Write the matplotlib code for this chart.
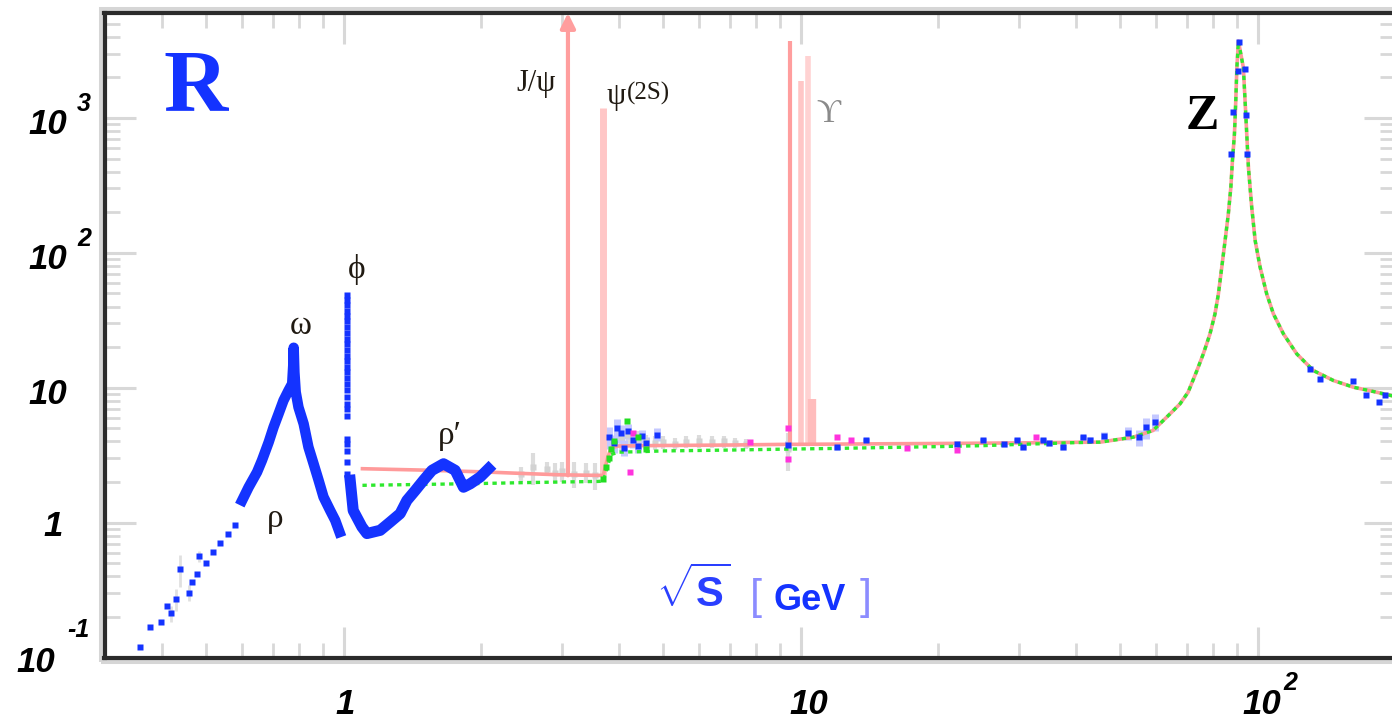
import matplotlib
matplotlib.use("Agg")
import matplotlib.pyplot as plt
from matplotlib.patches import Rectangle

plt.rcParams['mathtext.fontset'] = 'custom'
plt.rcParams['mathtext.bf'] = 'Liberation Sans:bold'
plt.rcParams['mathtext.rm'] = 'Liberation Sans'

# ---- values (sqrt(s) in GeV, R) ----
# sparse points below the rho
low_s = [0.359, 0.378, 0.399, 0.410, 0.419, 0.431, 0.439, 0.459, 0.467, 0.479,
         0.484, 0.501, 0.519, 0.536, 0.560, 0.580]
low_r = [0.120, 0.167, 0.182, 0.240, 0.212, 0.271, 0.451, 0.303, 0.363, 0.414,
         0.563, 0.502, 0.606, 0.706, 0.829, 0.955]
low_e = [0.0, 0.0, 0.0, 0.0, 0.03, 0.05, 0.12, 0.04, 0.0, 0.0,
         0.05, 0.0, 0.0, 0.0, 0.0, 0.0]

# rho / omega band
rho_s = [0.600, 0.620, 0.647, 0.663, 0.686, 0.703, 0.721, 0.739, 0.758, 0.772,
         0.776, 0.778, 0.781, 0.786, 0.797, 0.818, 0.838, 0.860, 0.882, 0.904,
         0.935, 0.959, 0.980]
rho_r = [1.46, 1.83, 2.37, 2.89, 3.95, 5.10, 6.41, 8.04, 9.54, 10.7,
         14.5, 19.8, 13.0, 9.3, 7.17, 5.40, 3.63, 2.73, 2.06, 1.55,
         1.23, 1.04, 0.85]

# phi spike
phi_s = [1.019] * 27
phi_r = [49, 45, 41, 37, 34, 31, 28, 25.5, 23, 21, 19, 17.3, 15.7, 14.3, 13,
         11.8, 10.7, 9.7, 8.6, 7.6, 6.9, 6.2, 4.2, 3.8, 3.4, 2.8, 2.3]

# above the phi up to ~2 GeV (rho' region)
rhop_s = [1.034, 1.050, 1.097, 1.125, 1.203, 1.265, 1.330, 1.376, 1.435, 1.496,
          1.561, 1.655, 1.755, 1.830, 1.893, 1.991, 2.076]
rhop_r = [2.06, 1.23, 0.93, 0.83, 0.877, 1.01, 1.166, 1.46, 1.73, 2.06,
          2.44, 2.73, 2.44, 1.83, 1.94, 2.18, 2.51]

# continuum curves (pink = naive quark model, green = QCD) below the Z
red_s = [1.10, 1.5, 2.0, 2.5, 3.0, 3.6, 3.70, 3.78, 3.85, 4.0, 4.5, 5.0, 7.0,
         9.0, 12.0, 15.0, 20.0, 25.0, 30.0, 35.0, 40.0]
red_r = [2.51, 2.45, 2.38, 2.31, 2.26, 2.24, 2.24, 3.0, 3.6, 3.70, 3.72, 3.73,
         3.76, 3.80, 3.82, 3.84, 3.86, 3.88, 3.90, 3.92, 3.94]
grn_s = [1.10, 1.5, 2.0, 2.5, 3.0, 3.6, 3.70, 3.78, 3.85, 4.0, 4.5, 5.0, 7.0,
         9.0, 12.0, 15.0, 20.0, 25.0, 30.0, 35.0, 40.0]
grn_r = [1.89, 1.92, 1.95, 1.98, 2.00, 2.02, 2.03, 2.6, 3.2, 3.33, 3.36, 3.40,
         3.45, 3.50, 3.55, 3.60, 3.66, 3.72, 3.80, 3.86, 3.92]

# Z line shape (shared by both curves)
z_s = [45.2, 53.4, 59.0, 64.3, 67.6, 70.4, 73.6, 76.0, 78.6, 80.6, 82.0, 83.4,
       84.8, 86.2, 87.3, 88.0, 88.9, 89.5, 90.0, 90.7, 93.0, 94.2, 95.4, 97.0,
       98.7, 101.2, 104.6, 108.2, 113.8, 121.7, 132.3, 146.4, 161.9, 182.1, 200.0]
z_r = [3.95, 4.30, 4.82, 6.41, 7.60, 9.26, 13.41, 17.82, 25.06, 35.24, 49.55,
       77.98, 122.9, 193.8, 304.9, 480.6, 757.5, 1336, 2357, 3715, 2357, 1005,
       428.7, 216.8, 122.9, 77.98, 49.55, 35.24, 25.06, 17.82, 13.41, 11.31,
       10.09, 9.26, 8.6]

# narrow resonances: J/psi, psi(2S), Upsilon(1S,2S,3S,4S)
res_m = [3.097, 3.686, 9.46, 10.02, 10.36, 10.58]
res_base = [2.24, 2.24, 3.80, 3.80, 3.80, 3.80]
res_top = [6000, 1190, 3700, 1880, 2880, 8.2]

# grey measurements with error bars
gray_s = [2.45, 2.60, 2.78, 2.90, 3.00, 3.20, 3.40, 3.55, 4.05, 4.20, 4.40, 4.60,
          4.80, 5.00, 5.30, 5.60, 6.00, 6.40, 6.80, 7.20, 7.60, 9.40]
gray_r = [2.30, 2.60, 2.50, 2.35, 2.40, 2.30, 2.35, 2.25, 4.30, 4.50, 4.20, 4.00,
          3.90, 3.95, 3.85, 3.95, 4.05, 3.95, 4.00, 3.90, 3.85, 3.50]
gray_e = [0.30, 0.70, 0.30, 0.40, 0.40, 0.50, 0.40, 0.50, 0.90, 0.80, 0.60, 0.50,
          0.45, 0.45, 0.40, 0.40, 0.45, 0.40, 0.40, 0.35, 0.35, 1.10]

# blue measurements above charm threshold
hi_s = [3.80, 3.90, 3.97, 4.05, 4.10, 4.20, 4.30, 4.40, 4.50, 4.60, 4.85, 9.40,
        12.0, 13.9, 22.0, 25.1, 27.8, 29.7, 30.7, 33.9, 35.0, 37.5, 41.5, 43.0,
        46.0, 52.0, 55.0, 57.0, 59.6]
hi_r = [4.30, 3.90, 5.00, 4.60, 3.60, 4.80, 4.10, 3.70, 4.40, 3.90, 4.50, 3.75,
        3.63, 4.07, 3.84, 4.07, 3.84, 4.07, 3.63, 4.07, 3.90, 3.63, 4.30, 4.10,
        4.42, 4.60, 4.30, 5.10, 5.55]
hi_e = [0.8, 0.6, 0.9, 0.7, 0.5, 0.6, 0.5, 0.4, 0.5, 0.4, 0.5, 0.3,
        0.2, 0.2, 0.2, 0.2, 0.2, 0.2, 0.2, 0.2, 0.2, 0.2, 0.2, 0.2,
        0.3, 0.5, 0.6, 0.9, 0.8]

# blue points on and above the Z
zpt_s = [87.5, 88.3, 90.4, 90.9, 93.6, 94.3, 94.7, 130.2, 136.7, 161.9, 172.6,
         183.7, 190.0]
zpt_r = [540, 1100, 2240, 3650, 2300, 1050, 540, 13.8, 11.6, 11.3, 8.76, 7.8, 8.76]

# magenta and green measurements
mag_s = [4.24, 4.30, 7.76, 9.40, 9.40, 12.0, 12.9, 17.1, 22.0, 32.7]
mag_r = [2.36, 4.60, 3.93, 5.00, 2.95, 4.30, 4.07, 3.60, 3.43, 4.30]
gpt_s = [3.70, 3.75, 3.80, 3.85, 3.90, 4.17, 4.40, 4.60]
gpt_r = [2.10, 2.60, 3.00, 3.50, 4.00, 5.70, 4.30, 3.50]

blue = '#1433ff'

fig = plt.figure(figsize=(13.92, 7.2), dpi=100)
ax = fig.add_axes([104.5 / 1392, 62.5 / 720, 1290.9 / 1392, 644.5 / 720])
ax.set_xscale('log')
ax.set_yscale('log')
ax.set_xlim(0.3, 200)
ax.set_ylim(0.1, 6000)

# grey data and light error bands
ax.errorbar(gray_s, gray_r, yerr=gray_e, fmt='s', ms=4, color='#d2d2d2',
            ecolor='#dcdcdc', elinewidth=3, mec='none', zorder=2)
ax.errorbar(hi_s, hi_r, yerr=hi_e, fmt='none', ecolor='#c4c8ff',
            elinewidth=5, zorder=2)
ax.errorbar(low_s, low_r, yerr=low_e, fmt='none', ecolor='#e0e0e0',
            elinewidth=2, zorder=2)

# resonances
res_col = ['#ff9e9e', '#ffc6c6', '#ff9e9e', '#ffc6c6', '#ffd2d2', '#ffbcbc']
res_lw = [3.0, 5.0, 3.0, 4.0, 4.0, 6.0]
for m, b, t, c, w in zip(res_m[1:], res_base[1:], res_top[1:], res_col[1:], res_lw[1:]):
    ax.plot([m, m], [b, t], color=c, lw=w, solid_capstyle='butt', zorder=2)
ax.annotate('', xy=(res_m[0], res_top[0]), xytext=(res_m[0], res_base[0]),
            arrowprops=dict(arrowstyle='-|>', color=res_col[0], lw=3,
                            mutation_scale=22, shrinkA=0, shrinkB=0),
            annotation_clip=False, zorder=2)

# continuum curves
ax.plot(red_s + z_s, red_r + z_r, color='#ff9a9a', lw=2.6, zorder=3)
ax.plot(grn_s + z_s, grn_r + z_r, color='#2ee82e', lw=2.4,
        ls=(0, (1.3, 1.3)), zorder=4)

# low energy data
ax.plot(low_s, low_r, ls='none', marker='s', ms=3.8, color=blue, mec='none', zorder=5)
ax.plot(rho_s, rho_r, color=blue, lw=7.5, solid_joinstyle='round', zorder=5)
ax.plot(phi_s, phi_r, ls='none', marker='s', ms=5, color=blue, mec='none', zorder=5)
ax.plot(rhop_s, rhop_r, color=blue, lw=8, solid_joinstyle='round', zorder=5)

# other data
ax.plot(hi_s, hi_r, ls='none', marker='s', ms=4.5, color=blue, mec='none', zorder=5)
ax.plot(zpt_s, zpt_r, ls='none', marker='s', ms=4.5, color=blue, mec='none', zorder=5)
ax.plot(mag_s, mag_r, ls='none', marker='s', ms=4.5, color='#ff33dd', mec='none', zorder=6)
ax.plot(gpt_s, gpt_r, ls='none', marker='s', ms=4.5, color='#22dd22', mec='none', zorder=6)

# axes look
for side in ['left', 'top', 'bottom']:
    ax.spines[side].set_color('#2b2b2b')
    ax.spines[side].set_linewidth(3)
ax.spines['right'].set_visible(False)
ax.tick_params(which='both', direction='in', top=True, right=True,
               color='#d8d8d8', labelleft=False, labelbottom=False)
ax.tick_params(which='major', length=22, width=2.2)
ax.tick_params(which='minor', length=11, width=2.0)
fig.patches.append(Rectangle((100.5 / 1392, 58.5 / 720), 1300 / 1392, 652.5 / 720,
                             transform=fig.transFigure, fill=False,
                             edgecolor='#d6d6d6', lw=2.9, zorder=-1))

# tick labels
tick_font = dict(family='Liberation Sans', style='italic', weight='bold', size=25,
                 color='black')
sup_font = dict(family='Liberation Sans', style='italic', weight='bold', size=18,
                color='black')
ytr = ax.get_yaxis_transform()
y_vals = [0.1, 1, 10, 100, 1000]
y_base = ['10', '1', '10', '10', '10']
y_exp = ['-1', '', '', '2', '3']
for v, b, e in zip(y_vals, y_base, y_exp):
    if e == '-1':
        bx, by, ex, ey = -49.5, -14.5, -37.5, 20.5
    elif b == '1':
        bx, by, ex, ey = -41.5, -13.7, 0, 0
    else:
        bx, by, ex, ey = -37.5, -16, -27.5, 7
    ax.annotate(b, xy=(0, v), xycoords=ytr, xytext=(bx, by), textcoords='offset pixels',
                ha='right', va='baseline', annotation_clip=False, **tick_font)
    if e:
        ax.annotate(e, xy=(0, v), xycoords=ytr, xytext=(ex, ey), textcoords='offset pixels',
                    ha='left', va='baseline', annotation_clip=False, **sup_font)

xtr = ax.get_xaxis_transform()
x_vals = [1, 10, 100]
x_base = ['1', '10', '10']
x_exp = ['', '', '2']
x_dx = [1.7, 8, 4]
for v, b, e, d in zip(x_vals, x_base, x_exp, x_dx):
    ax.annotate(b, xy=(v, 0), xycoords=xtr, xytext=(d, -56), textcoords='offset pixels',
                ha='center', va='baseline', annotation_clip=False, **tick_font)
    if e:
        ax.annotate(e, xy=(v, 0), xycoords=xtr, xytext=(26, -33), textcoords='offset pixels',
                    ha='left', va='baseline', annotation_clip=False, **sup_font)

# annotations
serif = ['Liberation Serif', 'DejaVu Serif']
lab = dict(family=serif, size=24, color='#201a12', ha='center', va='center')
ax.text(0.4735, 1637, 'R', family=serif, weight='bold', size=64, color=blue,
        ha='center', va='center')
ax.text(0.804, 28.9, 'ω', **lab)
ax.text(0.709, 1.076, 'ρ', **lab)
ax.text(1.071, 74.8, 'ϕ', **lab)
ax.text(1.712, 4.43, 'ρ′', **lab)
ax.text(2.64, 1815, 'J/ψ', family=serif, size=22, color='#201a12', ha='center', va='center')
ax.text(3.76, 1450, 'ψ', family=serif, size=22, color='#201a12', ha='left', va='center')
ax.text(4.17, 1530, '(2S)', family=serif, size=18, color='#201a12', ha='left', va='center')
ax.text(11.48, 1074, 'ϒ', family=serif, size=24, color='#8a8a8a', ha='center', va='center')
ax.text(75.5, 1017, 'Z', family=serif, weight='bold', size=36, color='black',
        ha='center', va='center')

# x axis title
fig.text(693 / 1392, 1 - 592 / 720, r'$\sqrt{\mathbf{S}}$', size=30, color='#2a3fff',
         ha='center', va='center')
fig.text(756 / 1392, 1 - 598 / 720, '[', family='Liberation Sans', size=31,
         color='#8c8cff', ha='center', va='center')
fig.text(810 / 1392, 1 - 601 / 720, 'GeV', family='Liberation Sans', weight='bold',
         size=26, color=blue, ha='center', va='center')
fig.text(866 / 1392, 1 - 598 / 720, ']', family='Liberation Sans', size=31,
         color='#8c8cff', ha='center', va='center')

fig.savefig('out.png', dpi=100)
